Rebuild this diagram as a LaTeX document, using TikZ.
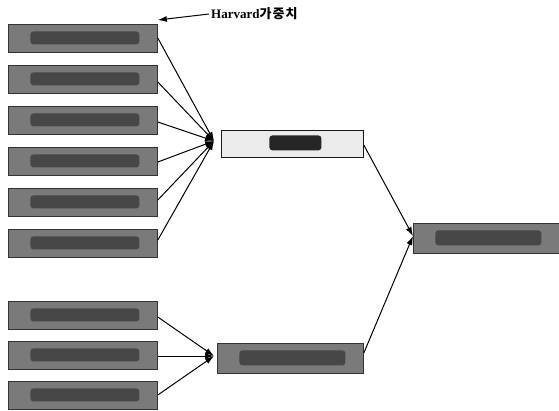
\documentclass[tikz,border=0pt]{standalone}
\usepackage{fontspec}
\setmainfont{Liberation Serif}
\newfontfamily\krfont{Noto Sans CJK KR}
\usetikzlibrary{arrows.meta}
\tikzset{
  gbox/.style={draw=black!80, line width=0.8pt, fill=black!52, minimum height=28pt,
    inner sep=0pt, anchor=north west,
    path picture={\fill[black!72, rounded corners=3pt] ([xshift=22pt,yshift=-7pt]path picture bounding box.north west)
      rectangle ([xshift=-18pt,yshift=8pt]path picture bounding box.south east);}},
  lbox/.style={gbox, fill=black!8, draw=black!90,
    path picture={\fill[black!85, rounded corners=3pt] ([xshift=48pt,yshift=-5pt]path picture bounding box.north west)
      rectangle ([xshift=-42pt,yshift=7pt]path picture bounding box.south east);}},
  link/.style={line width=1pt, -{Latex[length=9pt,width=6pt]}},
}
\begin{document}
\begin{tikzpicture}[x=1pt,y=-1pt]
\useasboundingbox (0,0) rectangle (559,410);
% left column, upper group
\node[gbox, minimum width=149pt] (a1) at (8,24) {};
\node[gbox, minimum width=149pt] (a2) at (8,65) {};
\node[gbox, minimum width=149pt] (a3) at (8,106) {};
\node[gbox, minimum width=149pt] (a4) at (8,147) {};
\node[gbox, minimum width=149pt] (a5) at (8,188) {};
\node[gbox, minimum width=149pt] (a6) at (8,229) {};
% left column, lower group
\node[gbox, minimum width=149pt] (b1) at (8,301) {};
\node[gbox, minimum width=149pt] (b2) at (8,341) {};
\node[gbox, minimum width=149pt] (b3) at (8,381) {};
% middle boxes
\node[lbox, minimum width=142pt, minimum height=27pt] (m1) at (221,130) {};
\node[gbox, minimum width=146pt, minimum height=30pt] (m2) at (217,343) {};
% result box
\node[gbox, minimum width=146pt, minimum height=30pt] (r) at (413,223) {};
% weight label
\node[anchor=west, inner sep=0pt, font=\fontsize{13}{14}\selectfont\bfseries] (hw) at (211,14)
  {Harvard{\krfont\addfontfeature{LetterSpace=8} 가중치}};
% connectors
\coordinate (t1) at (214,141);
\coordinate (t2) at (214,356);
\coordinate (t3) at (413,236);
\draw[link] ([xshift=-2pt]hw.west) -- ([yshift=4pt]a1.north east);
\draw[link] ([yshift=-14pt]a1.north east) -- (t1);
\draw[link] ([yshift=-17pt]a2.north east) -- (t1);
\draw[link] ([yshift=-16pt]a3.north east) -- (t1);
\draw[link] ([yshift=-15pt]a4.north east) -- (t1);
\draw[link] ([yshift=-12pt]a5.north east) -- (t1);
\draw[link] ([yshift=-11pt]a6.north east) -- (t1);
\draw[link] ([yshift=-16pt]b1.north east) -- (t2);
\draw[link] ([yshift=-15pt]b2.north east) -- (t2);
\draw[link] ([yshift=-14pt]b3.north east) -- (t2);
\draw[link] ([yshift=-15pt]m1.north east) -- (t3);
\draw[link] ([yshift=-10pt]m2.north east) -- (t3);
\end{tikzpicture}
\end{document}
